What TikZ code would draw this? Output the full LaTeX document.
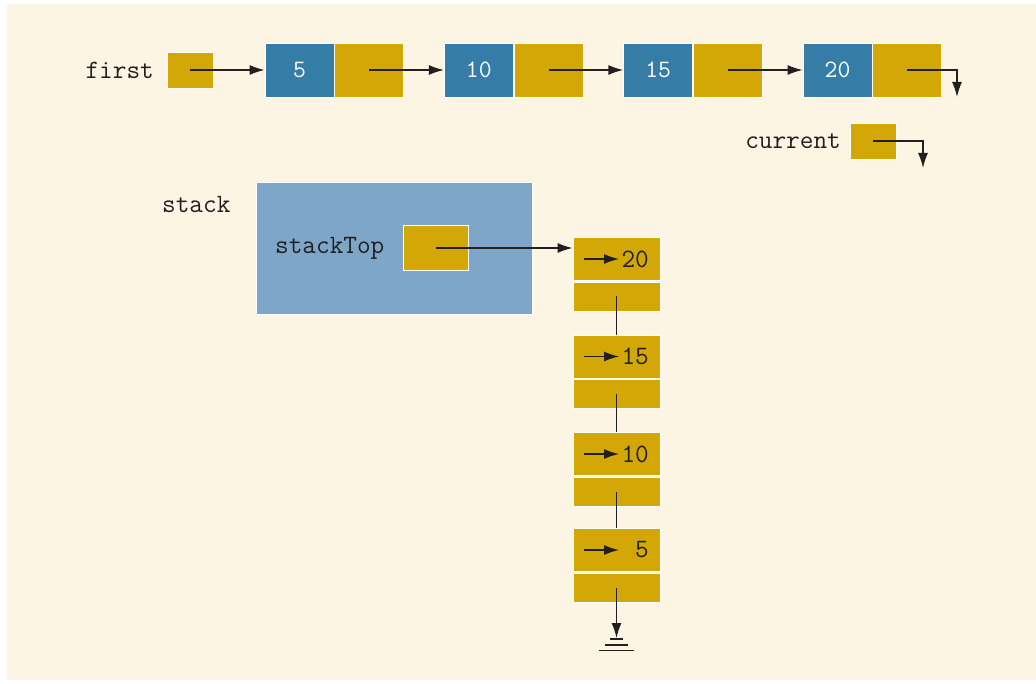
\documentclass[tikz,border=0pt]{standalone}
\usepackage{fontspec}
\usetikzlibrary{arrows.meta}
\definecolor{bgc}{HTML}{FDF5E4}
\definecolor{gold}{HTML}{D2A706}
\definecolor{infoblue}{HTML}{357CA6}
\definecolor{stackblue}{HTML}{7EA6C8}
\definecolor{ink}{HTML}{231F20}
\tikzset{
  txt/.style={font=\ttfamily\fontsize{26.5}{30}\selectfont, text=ink, inner sep=0pt},
  ptrbox/.style={draw=white, line width=0.8pt, fill=gold, minimum width=46pt, minimum height=36pt, inner sep=0pt},
  infobox/.style={draw=white, line width=0.8pt, fill=infoblue, minimum width=69pt, minimum height=54pt, inner sep=0pt, font=\ttfamily\fontsize{25}{28}\selectfont, text=white},
  linkbox/.style={draw=white, line width=0.8pt, fill=gold, minimum width=69pt, minimum height=54pt, inner sep=0pt},
  stopbox/.style={draw=white, line width=0.8pt, fill=gold, minimum width=87pt, minimum height=43pt, inner sep=0pt},
  sbotbox/.style={draw=white, line width=0.8pt, fill=gold, minimum width=87pt, minimum height=29pt, inner sep=0pt},
  conn/.style={draw=ink, line width=1.4pt, -{Latex[length=15pt,width=10pt]}},
  plain/.style={draw=ink, line width=1.4pt},
}
\begin{document}
\begin{tikzpicture}[x=1pt,y=-1pt]
\useasboundingbox (0,0) rectangle (1036,684);
\fill[bgc] (7,4) rectangle (1036,680);

% top list
\node[txt, anchor=east] (firstlbl) at (154,70) {first};
\node[ptrbox] (first) at (190,70) {};
\node[infobox] (i5) at (299.5,70) {5};
\node[linkbox, anchor=west] (l5) at (i5.east) {};
\node[infobox] (i10) at (478.8,70) {10};
\node[linkbox, anchor=west] (l10) at (i10.east) {};
\node[infobox] (i15) at (658.2,70) {15};
\node[linkbox, anchor=west] (l15) at (i15.east) {};
\node[infobox] (i20) at (837.5,70) {20};
\node[linkbox, anchor=west] (l20) at (i20.east) {};
\coordinate (end20) at (957,97);

\draw[conn] (first.center) -- (i5.west);
\draw[conn] (l5.center) -- (i10.west);
\draw[conn] (l10.center) -- (i15.west);
\draw[conn] (l15.center) -- (i20.west);
\draw[conn] (l20.center) -| (end20);

% current
\node[txt, anchor=east] (curlbl) at (841,141) {current};
\node[ptrbox] (cur) at (873,141) {};
\coordinate (endcur) at (923,168);
\draw[conn] (cur.center) -| (endcur);

% stack
\node[txt, anchor=west] (stacklbl) at (162,204) {stack};
\fill[stackblue, draw=white, line width=0.8pt] (256,182) rectangle (532,314);
\node[txt, anchor=west] (toplbl) at (275,248) {stackTop};
\node[ptrbox, minimum width=65pt, minimum height=45pt] (stop) at (435.5,248) {};

% stack nodes
\foreach \n/\v/\y in {a/20/259, b/15/356.5, c/10/454, d/5/550}{
  \node[stopbox] (t\n) at (616.5,\y) {};
  \node[sbotbox] (b\n) at (616.5,\y+37.5) {};
  \node[txt, anchor=east] (v\n) at (649,\y) {\v};
  \coordinate (as\n) at (584,\y);
  \coordinate (ae\n) at (619,\y);
  \draw[conn] (as\n) -- (ae\n);
}
\draw[conn] (stop.center) -- (stop.center -| ta.west);
\draw[plain] (ba.center) -- (tb.north);
\draw[plain] (bb.center) -- (tc.north);
\draw[plain] (bc.center) -- (td.north);
\coordinate (gnd) at (616.5,638);
\draw[conn] (bd.center) -- (gnd);
\draw[plain] (610,639) -- (623,639);
\draw[plain] (605,645) -- (628,645);
\draw[plain] (599,650.5) -- (634,650.5);
\end{tikzpicture}
\end{document}
